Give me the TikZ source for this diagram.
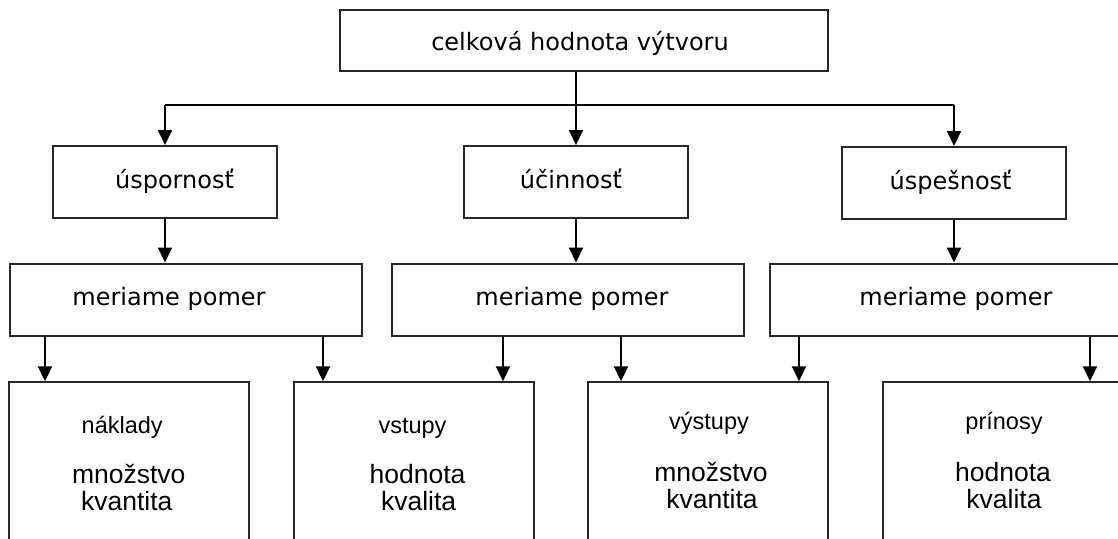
\documentclass[tikz,border=0pt]{standalone}
\usepackage{fontspec}
\setmainfont{DejaVu Sans}
\newfontfamily\arialfont{Liberation Sans}
\usetikzlibrary{arrows.meta}
\definecolor{boxline}{RGB}{40,40,40}
\tikzset{
  box/.style={draw=boxline, line width=2pt, rectangle, inner sep=0pt},
  arr/.style={draw=black, line width=2pt, -{Triangle[length=15pt,width=14pt]}},
  line/.style={draw=black, line width=2pt},
  vtext/.style={anchor=base, inner sep=0pt, font=\fontsize{24}{28}\selectfont},
  htext/.style={anchor=base, inner sep=0pt, font=\arialfont\fontsize{23.5}{28}\selectfont},
  btext/.style={anchor=base, inner sep=0pt, font=\arialfont\fontsize{26.5}{30}\selectfont},
}
\begin{document}
\begin{tikzpicture}[x=1pt, y=-1pt]
\useasboundingbox (0,0) rectangle (1118,538);
\clip (0,0) rectangle (1118,538);
\fill[white] (0,0) rectangle (1118,538);

% level 0
\node[box, minimum width=488pt, minimum height=61pt] (top) at (584,40) {};
% level 1
\node[box, minimum width=224pt, minimum height=72pt] (b1) at (165,182) {};
\node[box, minimum width=224pt, minimum height=72pt] (b2) at (576,182) {};
\node[box, minimum width=224pt, minimum height=72pt] (b3) at (954,183) {};
% level 2
\node[box, minimum width=352pt, minimum height=72pt] (m1) at (186,299.5) {};
\node[box, minimum width=352pt, minimum height=72pt] (m2) at (568,299.5) {};
\node[box, minimum width=352pt, minimum height=72pt] (m3) at (946,299.5) {};
% level 3 (cut by the lower edge)
\node[box, minimum width=240pt, minimum height=180pt] (n1) at (129,472.3) {};
\node[box, minimum width=240pt, minimum height=180pt] (n2) at (414,472.3) {};
\node[box, minimum width=240pt, minimum height=180pt] (n3) at (708,472.3) {};
\node[box, minimum width=240pt, minimum height=180pt] (n4) at (1003,472.3) {};

% texts
\node[vtext] (t0) at (580,50) {celková hodnota výtvoru};
\node[vtext] (t1) at (174.5,188.3) {úspornosť};
\node[vtext] (t2) at (571,188.3) {účinnosť};
\node[vtext] (t3) at (950.6,189.3) {úspešnosť};
\node[vtext] (tm1) at (169,305) {meriame pomer};
\node[vtext] (tm2) at (572,305) {meriame pomer};
\node[vtext] (tm3) at (956,305) {meriame pomer};

\node[htext] (h1) at (122.2,433.3) {náklady};
\node[btext] (h1a) at (128.7,483.3) {množstvo};
\node[btext] (h1b) at (126.7,510.7) {kvantita};
\node[htext] (h2) at (412.5,433.3) {vstupy};
\node[btext] (h2a) at (417.6,483.3) {hodnota};
\node[btext] (h2b) at (418.6,510.7) {kvalita};
\node[htext] (h3) at (709,429.3) {výstupy};
\node[btext] (h3a) at (711,481.7) {množstvo};
\node[btext] (h3b) at (712,508.3) {kvantita};
\node[htext] (h4) at (1004,429.3) {prínosy};
\node[btext] (h4a) at (1003,481.7) {hodnota};
\node[btext] (h4b) at (1004,508.3) {kvalita};

% distribution bus under the top box
\coordinate (busL) at (165,105);
\coordinate (busR) at (954,105);
\draw[line] (busL) -- (busR);
\draw[arr] (top.south -| b2.north) -- (b2.north);
\draw[arr] (busL) -- (b1.north);
\draw[arr] (busR) -- (b3.north);

% level 1 to level 2
\draw[arr] (b1.south) -- (b1.south |- m1.north);
\draw[arr] (b2.south) -- (b2.south |- m2.north);
\draw[arr] (b3.south) -- (b3.south |- m3.north);

% level 2 to level 3
\draw[arr] ([xshift=36pt]m1.south west) -- ([xshift=36pt]m1.south west |- n1.north);
\draw[arr] ([xshift=-40pt]m1.south east) -- ([xshift=-40pt]m1.south east |- n2.north);
\draw[arr] ([xshift=112pt]m2.south west) -- ([xshift=112pt]m2.south west |- n2.north);
\draw[arr] ([xshift=-124pt]m2.south east) -- ([xshift=-124pt]m2.south east |- n3.north);
\draw[arr] ([xshift=30pt]m3.south west) -- ([xshift=30pt]m3.south west |- n3.north);
\draw[arr] ([xshift=321pt]m3.south west) -- ([xshift=321pt]m3.south west |- n4.north);
\end{tikzpicture}
\end{document}
